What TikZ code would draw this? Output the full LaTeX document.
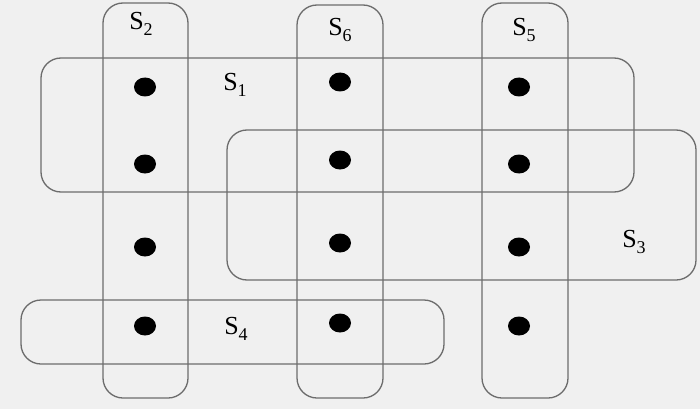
\documentclass[tikz,border=0pt]{standalone}
\usepackage{fontspec}
\setmainfont{Liberation Serif}
\usetikzlibrary{shapes.geometric}

\definecolor{paper}{RGB}{240,240,240}
\definecolor{setline}{RGB}{108,108,108}

\newcommand{\setname}[1]{S\raisebox{-0.45ex}{\fontsize{18}{18}\selectfont #1}}

\begin{document}
\begin{tikzpicture}[
  x=1pt, y=-1pt,
  set/.style={draw=setline, line width=1.3pt, rounded corners=20pt, inner sep=0pt},
  elem/.style={ellipse, fill=black, minimum width=22pt, minimum height=19pt, inner sep=0pt},
  lab/.style={font=\fontsize{26}{28}\selectfont, inner sep=0pt}
]

% background and page size
\fill[paper] (0,0) rectangle (700,409);
\useasboundingbox (0,0) rectangle (700,409);

% the sets
\node[set, minimum width=593pt, minimum height=134pt] (s1) at (337.5,125) {};
\node[set, minimum width=469pt, minimum height=150pt] (s3) at (461.5,205) {};
\node[set, minimum width=423pt, minimum height=64pt]  (s4) at (232.5,332) {};
\node[set, minimum width=85pt,  minimum height=395pt] (s2) at (145.5,200.5) {};
\node[set, minimum width=86pt,  minimum height=393pt] (s6) at (340,201.5) {};
\node[set, minimum width=86pt,  minimum height=395pt] (s5) at (525,200.5) {};

% the elements
\foreach \r/\y in {a/87,b/164,c/247,d/326}{
  \node[elem] (e2\r) at (145,\y) {};
  \node[elem] (e5\r) at (519,\y) {};
}
\foreach \r/\y in {a/82,b/160,c/243,d/323}
  \node[elem] (e6\r) at (340,\y) {};

% set names
\node[lab] (l2) at (141,24)  {\setname{2}};
\node[lab] (l6) at (340,30)  {\setname{6}};
\node[lab] (l5) at (524,30)  {\setname{5}};
\node[lab] (l1) at (235,85)  {\setname{1}};
\node[lab] (l3) at (634,242) {\setname{3}};
\node[lab] (l4) at (236,329) {\setname{4}};

\end{tikzpicture}
\end{document}
